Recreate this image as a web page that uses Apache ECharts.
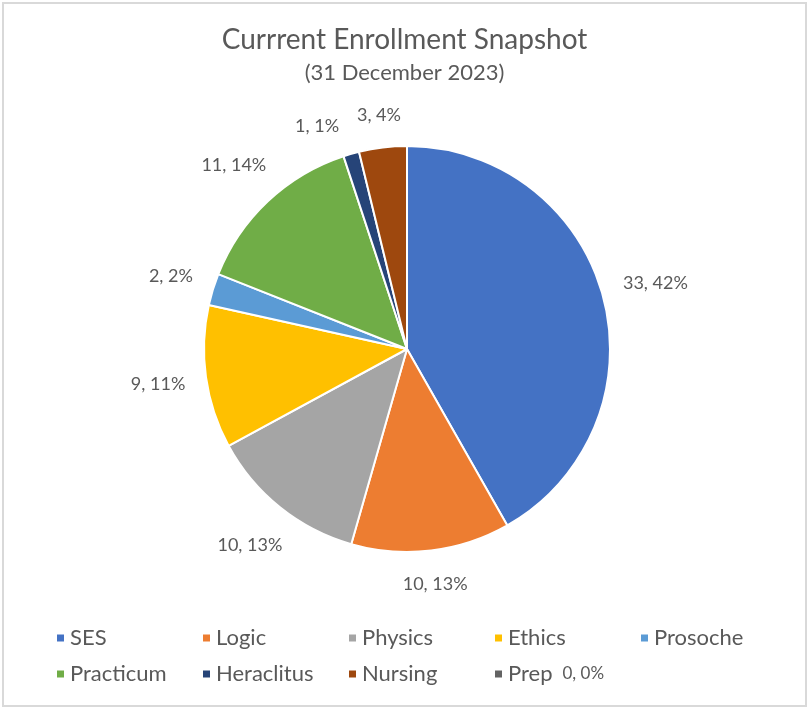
<!DOCTYPE html>
<html>
<head>
<meta charset="utf-8">
<script src="https://cdn.jsdelivr.net/npm/echarts@6/dist/echarts.min.js"></script>
<style>
html,body{margin:0;padding:0;background:#fff;}
#chart{width:809px;height:711px;}
</style>
</head>
<body>
<div id="chart"></div>
<script>
const categories = ['SES', 'Logic', 'Physics', 'Ethics', 'Prosoche', 'Practicum', 'Heraclitus', 'Nursing', 'Prep'];
const enrollment = [33, 10, 10, 9, 2, 11, 1, 3, 0];
const colors = ['#4472C4', '#ED7D31', '#A5A5A5', '#FFC000', '#5B9BD5', '#70AD47', '#264478', '#9E480E', '#636363'];
const titleText = 'Currrent Enrollment Snapshot';
const subtitleText = '(31 December 2023)';

const FONT = 'Lato';
const TEXT_COLOR = '#595959';
const LABEL_SIZE = 18;
const CX = 407, CY = 349, R = 203, PAD = 20;
const total = enrollment.reduce((a, b) => a + b, 0);

// percentages with largest remainder (same as ECharts percentPrecision 0)
function percents(vals) {
  const raw = vals.map(v => v / total * 100);
  const fl = raw.map(Math.floor);
  let rest = 100 - fl.reduce((a, b) => a + b, 0);
  const order = raw.map((r, i) => [r - fl[i], i]).sort((a, b) => b[0] - a[0]);
  for (let k = 0; k < rest; k++) fl[order[k][1]]++;
  return fl;
}
const pct = percents(enrollment);

// mid angles (clockwise from 12 o'clock, degrees)
const midAngles = [];
let acc = 0;
enrollment.forEach(v => {
  const a = v / total * 360;
  midAngles.push(acc + a / 2);
  acc += a;
});

// label placement: outside end, resolving overlaps by rotating the smaller slice's label
const ctx = document.createElement('canvas').getContext('2d');
ctx.font = LABEL_SIZE + 'px ' + FONT;
const labelBoxes = enrollment.map((v, i) => ({ w: ctx.measureText(v + ', ' + pct[i] + '%').width, h: LABEL_SIZE + 2, ang: midAngles[i] }));
function place(b) {
  const a = b.ang * Math.PI / 180;
  const ux = Math.sin(a), uy = -Math.cos(a);
  const d = R + PAD + Math.abs(ux) * b.w / 2 + Math.abs(uy) * b.h / 2;
  b.x = CX + ux * d; b.y = CY + uy * d;
}
function overlap(a, b) {
  return Math.abs(a.x - b.x) < (a.w + b.w) / 2 + 16 && Math.abs(a.y - b.y) < (a.h + b.h) / 2;
}
labelBoxes.forEach(place);
for (let iter = 0; iter < 200; iter++) {
  let moved = false;
  for (let i = 0; i < labelBoxes.length - 1; i++) {
    const j = i + 1;
    if (enrollment[i] === 0 || enrollment[j] === 0) continue;
    if (overlap(labelBoxes[i], labelBoxes[j])) {
      if (enrollment[i] <= enrollment[j]) labelBoxes[i].ang -= 0.5; else labelBoxes[j].ang += 0.5;
      place(labelBoxes[i]); place(labelBoxes[j]);
      moved = true;
    }
  }
  if (!moved) break;
}

const chart = echarts.init(document.getElementById('chart'));
const option = {
  animation: false,
  color: colors,
  title: {
    text: titleText,
    subtext: subtitleText,
    left: 'center',
    top: 21,
    itemGap: 8,
    textStyle: { fontFamily: FONT, fontSize: 28, fontWeight: 'normal', color: TEXT_COLOR },
    subtextStyle: { fontFamily: FONT, fontSize: 22, color: TEXT_COLOR }
  },
  legend: {
    left: 50,
    top: 622,
    width: 760,
    itemWidth: 9,
    itemHeight: 9,
    itemGap: 14,
    icon: 'rect',
    data: categories,
    formatter: function (name) {
      const i = categories.indexOf(name);
      if (enrollment[i] === 0) {
        return '{p|' + name + '}{z|' + enrollment[i] + ', ' + pct[i] + '%}';
      }
      return '{n|' + name + '}';
    },
    textStyle: {
      fontFamily: FONT, fontSize: 22, color: TEXT_COLOR,
      rich: {
        n: { fontFamily: FONT, fontSize: 22, color: TEXT_COLOR, width: 117, lineHeight: 22 },
        p: { fontFamily: FONT, fontSize: 22, color: TEXT_COLOR, lineHeight: 22 },
        z: { fontFamily: FONT, fontSize: 17, color: TEXT_COLOR, lineHeight: 22, padding: [0, 0, 0, 10] }
      }
    }
  },
  graphic: [{
    type: 'rect',
    shape: { x: 3, y: 3, width: 803, height: 703 },
    style: { fill: null, stroke: '#D9D9D9', lineWidth: 2 },
    silent: true
  }],
  series: [{
    type: 'pie',
    center: [CX, CY],
    radius: R,
    startAngle: 90,
    clockwise: true,
    percentPrecision: 0,
    avoidLabelOverlap: false,
    itemStyle: { borderColor: '#fff', borderWidth: 2 },
    label: {
      show: true,
      position: 'outside',
      formatter: '{c}, {d}%',
      fontFamily: FONT,
      fontSize: LABEL_SIZE,
      color: TEXT_COLOR
    },
    labelLine: { show: false, length: 10, length2: 0 },
    labelLayout: function (params) {
      const b = labelBoxes[params.dataIndex];
      return { x: b.x, y: b.y, align: 'center', verticalAlign: 'middle' };
    },
    emphasis: { disabled: true },
    data: categories.map((name, i) => ({
      name: name,
      value: enrollment[i],
      label: { show: enrollment[i] !== 0 }
    }))
  }]
};
chart.setOption(option);
</script>
</body>
</html>
